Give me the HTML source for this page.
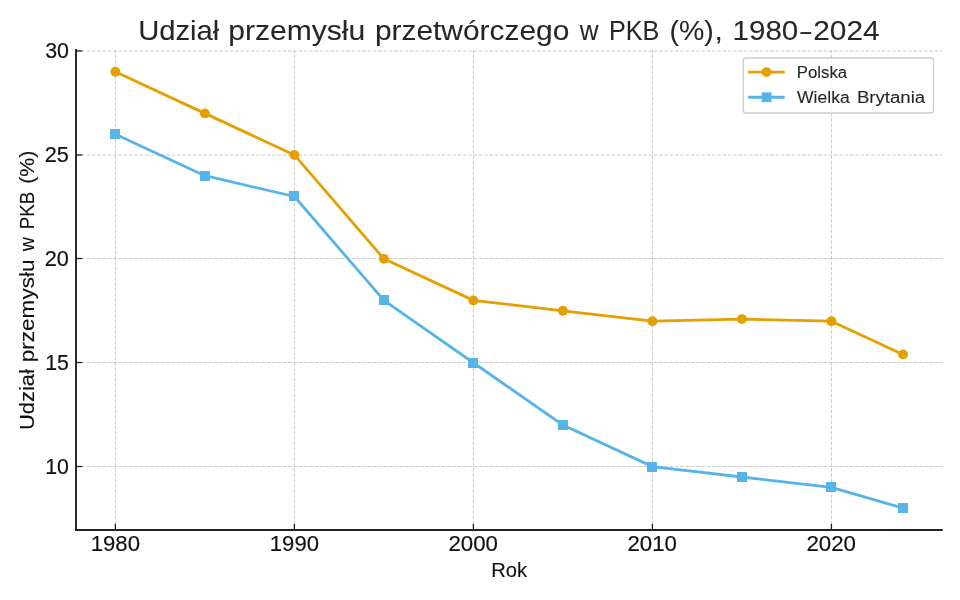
<!DOCTYPE html>
<html lang="pl"><head><meta charset="utf-8"><title>Udział przemysłu przetwórczego w PKB</title>
<style>html,body{margin:0;padding:0;background:#fff;overflow:hidden}body{width:960px;height:600px;font-family:"Liberation Sans",sans-serif}svg{display:block}text{font-family:"Liberation Sans",sans-serif}</style></head><body>
<svg width="960" height="600" viewBox="0 0 960 600">
<rect x="0" y="0" width="960" height="600" fill="#ffffff"/>
<g stroke="#cbcbcb" stroke-width="1" stroke-dasharray="3.7 1.6" fill="none">
<line x1="115.38" y1="530.00" x2="115.38" y2="50.00"/>
<line x1="294.39" y1="530.00" x2="294.39" y2="50.00"/>
<line x1="473.40" y1="530.00" x2="473.40" y2="50.00"/>
<line x1="652.41" y1="530.00" x2="652.41" y2="50.00"/>
<line x1="831.41" y1="530.00" x2="831.41" y2="50.00"/>
<line x1="76.00" y1="466.50" x2="942.40" y2="466.50"/>
<line x1="76.00" y1="362.50" x2="942.40" y2="362.50"/>
<line x1="76.00" y1="258.50" x2="942.40" y2="258.50"/>
<line x1="76.00" y1="155.00" x2="942.40" y2="155.00"/>
<line x1="76.00" y1="51.00" x2="942.40" y2="51.00"/>
</g>
<polyline points="115.38,71.82 204.89,113.38 294.39,154.94 383.89,258.83 473.40,300.39 562.90,310.78 652.41,321.17 741.91,319.09 831.41,321.17 903.02,354.42" fill="none" stroke="#E69F00" stroke-width="2.8" stroke-linejoin="round" stroke-linecap="butt"/>
<circle cx="115.38" cy="71.82" r="4.95" fill="#E69F00"/>
<circle cx="204.89" cy="113.38" r="4.95" fill="#E69F00"/>
<circle cx="294.39" cy="154.94" r="4.95" fill="#E69F00"/>
<circle cx="383.89" cy="258.83" r="4.95" fill="#E69F00"/>
<circle cx="473.40" cy="300.39" r="4.95" fill="#E69F00"/>
<circle cx="562.90" cy="310.78" r="4.95" fill="#E69F00"/>
<circle cx="652.41" cy="321.17" r="4.95" fill="#E69F00"/>
<circle cx="741.91" cy="319.09" r="4.95" fill="#E69F00"/>
<circle cx="831.41" cy="321.17" r="4.95" fill="#E69F00"/>
<circle cx="903.02" cy="354.42" r="4.95" fill="#E69F00"/>
<polyline points="115.38,134.16 204.89,175.71 294.39,196.49 383.89,300.39 473.40,362.73 562.90,425.06 652.41,466.62 741.91,477.01 831.41,487.40 903.02,508.18" fill="none" stroke="#56B4E9" stroke-width="2.8" stroke-linejoin="round" stroke-linecap="butt"/>
<rect x="110" y="129" width="10" height="10" fill="#56B4E9"/>
<rect x="200" y="171" width="10" height="10" fill="#56B4E9"/>
<rect x="289" y="191" width="10" height="10" fill="#56B4E9"/>
<rect x="379" y="295" width="10" height="10" fill="#56B4E9"/>
<rect x="468" y="358" width="10" height="10" fill="#56B4E9"/>
<rect x="558" y="420" width="10" height="10" fill="#56B4E9"/>
<rect x="647" y="462" width="10" height="10" fill="#56B4E9"/>
<rect x="737" y="472" width="10" height="10" fill="#56B4E9"/>
<rect x="826" y="482" width="10" height="10" fill="#56B4E9"/>
<rect x="898" y="503" width="10" height="10" fill="#56B4E9"/>
<path d="M76.00 49.10 V530.00 H942.70" fill="none" stroke="#222222" stroke-width="1.9" stroke-linecap="butt" stroke-linejoin="miter"/>
<g stroke="#222222" stroke-width="1.3">
<line x1="115.38" y1="530.00" x2="115.38" y2="523.80"/>
<line x1="294.39" y1="530.00" x2="294.39" y2="523.80"/>
<line x1="473.40" y1="530.00" x2="473.40" y2="523.80"/>
<line x1="652.41" y1="530.00" x2="652.41" y2="523.80"/>
<line x1="831.41" y1="530.00" x2="831.41" y2="523.80"/>
<line x1="76.00" y1="466.50" x2="82.20" y2="466.50"/>
<line x1="76.00" y1="362.50" x2="82.20" y2="362.50"/>
<line x1="76.00" y1="258.50" x2="82.20" y2="258.50"/>
<line x1="76.00" y1="155.00" x2="82.20" y2="155.00"/>
<line x1="76.00" y1="51.00" x2="82.20" y2="51.00"/>
</g>
<rect x="743.3" y="58.0" width="190.2" height="55.0" rx="3.0" ry="3.0" fill="#ffffff" fill-opacity="0.8" stroke="#cdcdcd" stroke-width="1.35"/>
<line x1="748.2" y1="72.05" x2="784.7" y2="72.05" stroke="#E69F00" stroke-width="2.8"/>
<circle cx="766.6" cy="72.05" r="4.9" fill="#E69F00"/>
<line x1="748.2" y1="97.25" x2="784.7" y2="97.25" stroke="#56B4E9" stroke-width="2.8"/>
<rect x="761.75" y="92.35" width="9.8" height="9.8" fill="#56B4E9"/>
<g opacity="0.999">
<text transform="translate(90.80 551.10) scale(1.0428 1)" font-size="21.20" fill="#111111" stroke="#111111" stroke-width="0.18">1980</text>
<text transform="translate(269.81 551.10) scale(1.0428 1)" font-size="21.20" fill="#111111" stroke="#111111" stroke-width="0.18">1990</text>
<text transform="translate(448.40 551.10) scale(1.0517 1)" font-size="21.20" fill="#111111" stroke="#111111" stroke-width="0.18">2000</text>
<text transform="translate(627.41 551.10) scale(1.0517 1)" font-size="21.20" fill="#111111" stroke="#111111" stroke-width="0.18">2010</text>
<text transform="translate(806.42 551.10) scale(1.0517 1)" font-size="21.20" fill="#111111" stroke="#111111" stroke-width="0.18">2020</text>
<text transform="translate(45.22 473.92) scale(1.0065 1)" font-size="21.20" fill="#111111" stroke="#111111" stroke-width="0.18">10</text>
<text transform="translate(45.22 370.03) scale(1.0048 1)" font-size="21.20" fill="#111111" stroke="#111111" stroke-width="0.18">15</text>
<text transform="translate(44.78 266.13) scale(1.0254 1)" font-size="21.20" fill="#111111" stroke="#111111" stroke-width="0.18">20</text>
<text transform="translate(44.78 162.24) scale(1.0240 1)" font-size="21.20" fill="#111111" stroke="#111111" stroke-width="0.18">25</text>
<text transform="translate(45.13 58.34) scale(1.0103 1)" font-size="21.20" fill="#111111" stroke="#111111" stroke-width="0.18">30</text>
<text transform="translate(491.21 576.60) scale(0.9644 1)" font-size="21.00" fill="#111111" stroke="#111111" stroke-width="0.12">Rok</text>
<text transform="translate(33.80 430.02) rotate(-90) scale(1.0444 1)" font-size="21.00" fill="#111111" stroke="#111111" stroke-width="0.12">Udział</text>
<text transform="translate(33.80 362.25) rotate(-90) scale(1.0744 1)" font-size="21.00" fill="#111111" stroke="#111111" stroke-width="0.12">przemysłu</text>
<text transform="translate(33.80 251.36) rotate(-90) scale(0.9283 1)" font-size="21.00" fill="#111111" stroke="#111111" stroke-width="0.12">w</text>
<text transform="translate(33.80 229.29) rotate(-90) scale(0.8955 1)" font-size="21.00" fill="#111111" stroke="#111111" stroke-width="0.12">PKB</text>
<text transform="translate(33.80 183.82) rotate(-90) scale(1.0177 1)" font-size="21.00" fill="#111111" stroke="#111111" stroke-width="0.12">(%)</text>
<text transform="translate(138.15 39.60) scale(1.0285 1)" font-size="28.40" fill="#262626" stroke="#262626" stroke-width="0.06">Udział</text>
<text transform="translate(228.20 39.60) scale(1.0592 1)" font-size="28.40" fill="#262626" stroke="#262626" stroke-width="0.06">przemysłu</text>
<text transform="translate(374.88 39.60) scale(1.0536 1)" font-size="28.40" fill="#262626" stroke="#262626" stroke-width="0.06">przetwórczego</text>
<text transform="translate(579.63 39.60) scale(0.9155 1)" font-size="28.40" fill="#262626" stroke="#262626" stroke-width="0.06">w</text>
<text transform="translate(608.99 39.60) scale(0.8846 1)" font-size="28.40" fill="#262626" stroke="#262626" stroke-width="0.06">PKB</text>
<text transform="translate(669.48 39.60) scale(1.0032 1)" font-size="28.40" fill="#262626" stroke="#262626" stroke-width="0.06">(%)</text>
<text transform="translate(714.43 39.60) scale(1.0563 1)" font-size="28.40" fill="#262626" stroke="#262626" stroke-width="0.06">,</text>
<text transform="translate(732.59 39.60) scale(1.0401 1)" font-size="28.40" fill="#262626" stroke="#262626" stroke-width="0.06">1980</text>
<text transform="translate(800.58 39.60) scale(0.6729 1)" font-size="28.40" fill="#262626" stroke="#262626" stroke-width="0.06">–</text>
<text transform="translate(813.24 39.60) scale(1.0528 1)" font-size="28.40" fill="#262626" stroke="#262626" stroke-width="0.06">2024</text>
<text transform="translate(796.71 77.60) scale(0.9719 1)" font-size="17.30" fill="#262626" stroke="#262626" stroke-width="0.10">Polska</text>
<text transform="translate(797.02 102.60) scale(1.0166 1)" font-size="17.30" fill="#262626" stroke="#262626" stroke-width="0.10">Wielka</text>
<text transform="translate(856.91 102.60) scale(1.0768 1)" font-size="17.30" fill="#262626" stroke="#262626" stroke-width="0.10">Brytania</text>
</g>
</svg></body></html>
